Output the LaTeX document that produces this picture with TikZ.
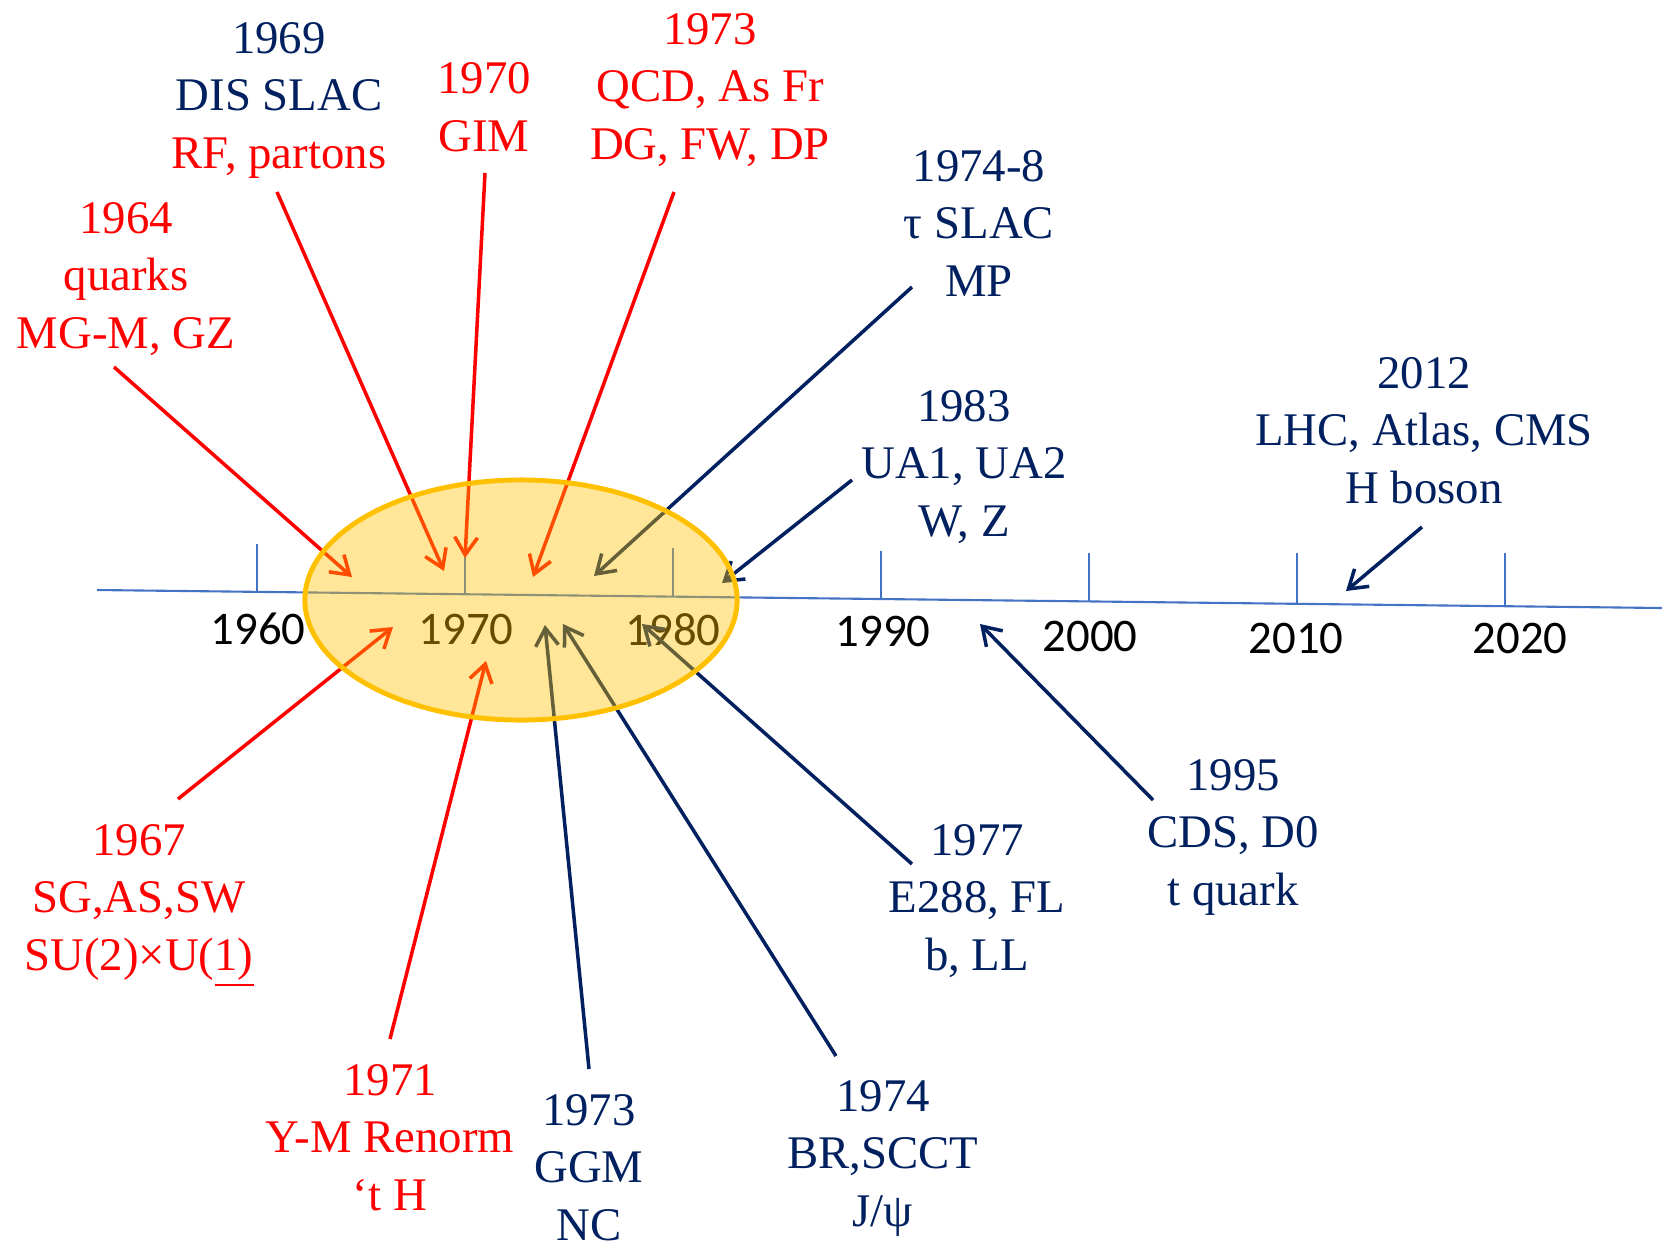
\documentclass[tikz,border=0pt]{standalone}
\usepackage{fontspec}
\setmainfont{Liberation Serif}
\newfontfamily\calibri{Carlito}
\usetikzlibrary{arrows.meta}
\definecolor{navy}{RGB}{0,32,96}
\definecolor{axisblue}{RGB}{68,114,196}
\definecolor{gold}{RGB}{255,192,0}
\tikzset{
	event/.style={anchor=base, align=center, inner sep=0pt, font=\fontsize{13.3}{16.3}\selectfont},
	yearlabel/.style={anchor=base, inner sep=0pt, font=\calibri\fontsize{13.3}{16}\selectfont},
	pointer/.style={line width=1pt, -{Straight Barb[length=5pt,width=6.5pt]}},
}
\begin{document}
\begin{tikzpicture}[x=0.01cm, y=-0.01cm]
	\useasboundingbox (0,0) rectangle (1662,1247);
		\draw[axisblue, line width=0.6pt] (97,590) -- (1662,608);
		\foreach \x/\t/\lx/\ly/\yr in {257/544/258/644/1960, 465/553/466/644/1970, 673/548/673/645/1980, 881/551/883/646/1990, 1089/553/1090/651/2000, 1297/553/1296/653/2010, 1505/553/1520/653/2020}{
			\draw[axisblue, line width=0.6pt] (\x,\t) -- (\x,{590+(\x-97)*0.0115});
			\node[yearlabel] at (\lx,\ly) (Y\yr) {\yr};
		}
		\node[event, red] at (126,348) (quarks) {1964\\quarks\\MG-M, GZ};
		\node[event, navy] at (279,168) (dis) {1969\\DIS SLAC\\\textcolor{red}{RF, partons}};
		\node[event, red] at (484,151) (gim) {1970\\GIM};
		\node[event, red] at (710,159) (qcd) {1973\\QCD, As Fr\\DG, FW, DP};
		\node[event, navy] at (979,296) (tau) {1974-8\\τ SLAC\\MP};
		\node[event, navy] at (964,536) (wz) {1983\\UA1, UA2\\W, Z};
		\node[event, navy] at (1424,503) (higgs) {2012\\LHC, Atlas, CMS\\H boson};
		\node[event, red] at (139,970) (ew) {1967\\SG,AS,SW\\SU(2)×U(\underline{1)}};
		\node[event, red] at (390,1210) (renorm) {1971\\Y-M Renorm\\‘t H};
		\node[event, navy] at (589,1240) (nc) {1973\\GGM\\NC};
		\node[event, navy] at (883,1226) (jpsi) {1974\\BR,SCCT\\J/ψ};
		\node[event, navy] at (977,970) (bottom) {1977\\E288, FL\\b, LL};
		\node[event, navy] at (1233,905) (top) {1995\\CDS, D0\\t quark};
		\foreach \n/\sx/\sy/\tx/\ty in {quarks/114/367/352/577, dis/277/192/444/571, gim/485/173/465/558, qcd/674/192/533/577, tau/912/287/594/576, wz/852/480/722/583, higgs/1422/527/1346/591, ew/178/799/393/627, renorm/390/1039/486/661, nc/589/1069/545/625, jpsi/836/1056/563/624, bottom/912/864/642/624, top/1153/800/980/624}{
			\coordinate (S\n) at (\sx,\sy);
			\coordinate (T\n) at (\tx,\ty);
		}
		\draw[pointer, red] (Squarks) -- (Tquarks);
		\draw[pointer, red] (Sdis) -- (Tdis);
		\draw[pointer, red] (Sgim) -- (Tgim);
		\draw[pointer, red] (Sqcd) -- (Tqcd);
		\draw[pointer, navy] (Stau) -- (Ttau);
		\draw[pointer, navy] (Swz) -- (Twz);
		\draw[pointer, navy] (Shiggs) -- (Thiggs);
		\draw[pointer, red] (Sew) -- (Tew);
		\draw[pointer, red] (Srenorm) -- (Trenorm);
		\draw[pointer, navy] (Snc) -- (Tnc);
		\draw[pointer, navy] (Sjpsi) -- (Tjpsi);
		\draw[pointer, navy] (Sbottom) -- (Tbottom);
		\draw[pointer, navy] (Stop) -- (Ttop);
		\draw[gold, line width=1.4pt, fill=gold, fill opacity=0.4] (521,600) ellipse [x radius=2.16cm, y radius=1.2cm];
	\end{tikzpicture}
\end{document}
